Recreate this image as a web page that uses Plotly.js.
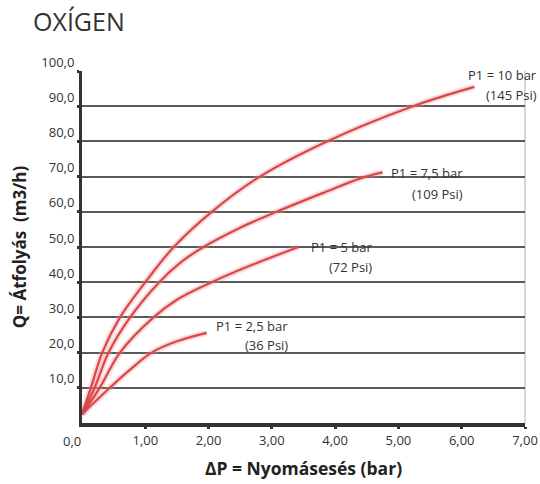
<!DOCTYPE html>
<html>
<head>
<meta charset="utf-8">
<script src="https://cdn.plot.ly/plotly-3.0.1.min.js"></script>
<style>html,body{margin:0;padding:0;background:#fff;}#chart{width:540px;height:484px;}</style>
</head>
<body>
<div id="chart"></div>
<script>
// Data
const seriesNames = ["P1 = 10 bar", "P1 = 7,5 bar", "P1 = 5 bar", "P1 = 2,5 bar"];
const psiLabels = ["(145 Psi)", "(109 Psi)", "(72 Psi)", "(36 Psi)"];

const dp10 = [0, 0.14, 0.32, 0.60, 1.00, 1.45, 2.05, 2.81, 3.87, 5.23, 6.20];
const q10  = [2.5, 10, 20, 30, 40, 50, 60, 70, 80, 90, 95.5];

const dp75 = [0, 0.20, 0.42, 0.76, 1.22, 1.55, 1.92, 2.50, 3.10, 3.80, 4.40, 4.75];
const q75  = [2.5, 10, 20, 30, 40, 45.5, 50, 55.5, 60.2, 65.3, 69.5, 71.2];

const dp5 = [0, 0.28, 0.60, 1.13, 1.50, 2.05, 2.70, 3.42];
const q5  = [2.5, 10, 20, 30, 35, 40, 45, 50];

const dp25 = [0, 0.44, 0.75, 1.10, 1.50, 1.97];
const q25  = [2.5, 10, 15, 20, 23.2, 25.6];

// label anchor positions (data units)
const labelX  = [7.22, 6.05, 4.61, 3.29];
const labelY1 = [98.9, 71.0, 50.0, 27.6];
const labelY2 = [93.2, 65.1, 44.3, 22.2];

const xRange = [0, 7];
const yRange = [0, 100];
const xTickVals = [1, 2, 3, 4, 5, 6, 7];
const xTickText = ["1,00", "2,00", "3,00", "4,00", "5,00", "6,00", "7,00"];
const yTickVals = [10, 20, 30, 40, 50, 60, 70, 80, 90, 100];
const yTickText = ["10,0", "20,0", "30,0", "40,0", "50,0", "60,0", "70,0", "80,0", "90,0", "100,0"];

const xs = [dp10, dp75, dp5, dp25];
const ys = [q10, q75, q5, q25];

const traces = [];
// soft halo
for (let i = 0; i < xs.length; i++) {
  traces.push({x: xs[i], y: ys[i], type: 'scatter', mode: 'lines',
    line: {shape: 'spline', smoothing: 1, color: 'rgba(240,150,150,0.35)', width: 6},
    hoverinfo: 'skip', showlegend: false});
}
for (let i = 0; i < xs.length; i++) {
  traces.push({x: xs[i], y: ys[i], type: 'scatter', mode: 'lines', name: seriesNames[i],
    line: {shape: 'spline', smoothing: 1, color: '#d9474b', width: 2.2},
    showlegend: false});
}

const txtFont = {family: 'Open Sans, sans-serif', size: 13, color: '#333'};
const px = v => (v - xRange[0]) / (xRange[1] - xRange[0]);
const py = v => (v - yRange[0]) / (yRange[1] - yRange[0]);
const annotations = [];
for (let i = 0; i < seriesNames.length; i++) {
  annotations.push({x: px(labelX[i]), y: py(labelY1[i]), xref: 'paper', yref: 'paper', text: seriesNames[i],
    showarrow: false, xanchor: 'right', yanchor: 'middle', font: txtFont});
  annotations.push({x: px(labelX[i]), y: py(labelY2[i]), xref: 'paper', yref: 'paper', text: psiLabels[i],
    showarrow: false, xanchor: 'right', yanchor: 'middle', font: txtFont});
}
annotations.push({x: 0, y: 0, xref: 'paper', yref: 'paper', text: '0,0', showarrow: false,
  xanchor: 'center', yanchor: 'middle', xshift: -10, yshift: -18, font: txtFont});

const layout = {
  width: 540, height: 484,
  margin: {l: 82, r: 15, t: 71, b: 61},
  paper_bgcolor: '#fff', plot_bgcolor: '#fff',
  title: {text: 'OXÍGEN', x: 33/540, xref: 'container', xanchor: 'left',
    y: 1 - 22/484, yref: 'container', yanchor: 'middle',
    font: {family: 'Open Sans, sans-serif', size: 25, color: '#333', weight: 400}},
  xaxis: {range: xRange, tickvals: xTickVals, ticktext: xTickText, showgrid: false,
    zeroline: false, showline: true, linecolor: '#333', linewidth: 4,
    ticks: 'outside', ticklen: 2, tickwidth: 3, tickcolor: '#333',
    tickfont: txtFont, fixedrange: true,
    title: {text: 'ΔP = Nyomásesés (bar)', standoff: 16,
      font: {family: 'Open Sans, sans-serif', size: 17.5, color: '#222', weight: 700}}},
  yaxis: {range: yRange, tickvals: yTickVals, ticktext: yTickText, showgrid: true,
    gridcolor: '#5a5a5a', gridwidth: 2, zeroline: false, showline: true,
    linecolor: '#333', linewidth: 3, ticks: 'outside', ticklen: 2, tickwidth: 3,
    tickcolor: '#333', tickfont: txtFont, ticklabelshift: -9, fixedrange: true,
    title: {text: 'Q= Átfolyás\u00a0 (m3/h)', standoff: 11,
      font: {family: 'Open Sans, sans-serif', size: 17, color: '#222', weight: 700}}},
  shapes: [{type: 'line', xref: 'paper', yref: 'paper', x0: 1, x1: 1, y0: 0, y1: 1,
    line: {color: '#c8c8c8', width: 1.5}, layer: 'below'}],
  annotations: annotations,
  showlegend: false
};

Plotly.newPlot('chart', traces, layout, {displayModeBar: false, staticPlot: true});
</script>
</body>
</html>
